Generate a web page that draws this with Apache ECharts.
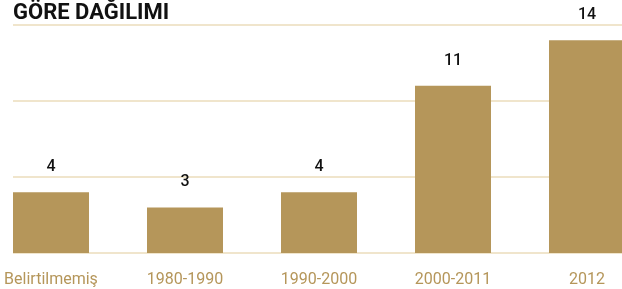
<!DOCTYPE html>
<html>
<head>
<meta charset="utf-8">
<script src="https://cdn.jsdelivr.net/npm/echarts@6/dist/echarts.min.js"></script>
<style>
  html, body { margin: 0; padding: 0; background: #fff; }
  #main { width: 622px; height: 289px; }
</style>
</head>
<body>
<div id="main"></div>
<script>
// kategoriler ve değerler
var categories = ['Belirtilmemiş', '1980-1990', '1990-2000', '2000-2011', '2012'];
var counts = [4, 3, 4, 11, 14];
var yTicks = [0, 5, 10, 15];

var gold = '#b5965a';
var lineColor = '#ebdcbb';

var chart = echarts.init(document.getElementById('main'), null, { renderer: 'canvas' });

chart.setOption({
  animation: false,
  textStyle: { fontFamily: 'Roboto' },
  title: {
    text: 'GÖRE DAĞILIMI',
    left: 13,
    top: 2,
    padding: 0,
    textStyle: { fontSize: 22, fontWeight: 'bold', color: '#111', fontFamily: 'Roboto' }
  },
  grid: [
    // barlar - taşmaya izin ver
    { left: -16, width: 670, top: 25, bottom: 36, outerBoundsMode: 'none' },
    // yatay çizgiler
    { left: 13, right: 0, top: 25, bottom: 36, outerBoundsMode: 'none' }
  ],
  xAxis: [
    {
      type: 'category',
      gridIndex: 0,
      data: categories,
      axisLine: { show: false },
      axisTick: { show: false },
      axisLabel: { color: gold, fontSize: 16, margin: 19 }
    },
    { type: 'value', gridIndex: 1, show: false, min: 0, max: 1 }
  ],
  yAxis: [
    { type: 'value', gridIndex: 0, min: 0, max: yTicks[yTicks.length - 1], show: false },
    {
      type: 'value',
      gridIndex: 1,
      min: 0,
      max: yTicks[yTicks.length - 1],
      interval: yTicks[1] - yTicks[0],
      axisLine: { show: false },
      axisTick: { show: false },
      axisLabel: { show: false },
      splitLine: { lineStyle: { color: lineColor, width: 1.5 } }
    }
  ],
  series: [{
    type: 'bar',
    xAxisIndex: 0,
    yAxisIndex: 0,
    data: counts,
    barWidth: 76,
    itemStyle: { color: gold },
    label: {
      show: true,
      position: 'top',
      distance: 17,
      color: '#111',
      fontSize: 16,
      fontWeight: 500,
      fontFamily: 'Roboto'
    }
  }]
});
</script>
</body>
</html>
